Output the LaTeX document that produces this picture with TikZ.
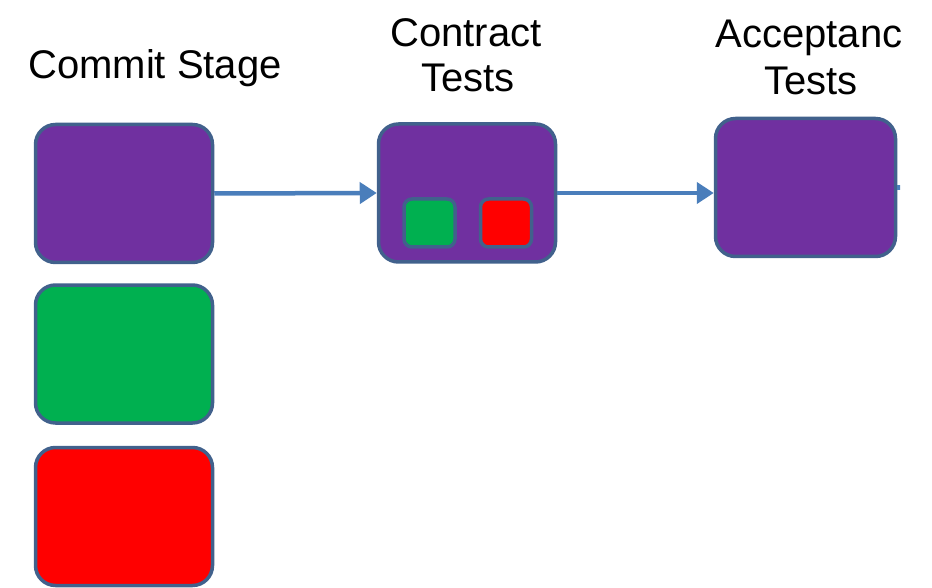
\documentclass[tikz,border=0pt]{standalone}
\usepackage{fontspec}
\setmainfont{Liberation Sans}
\usetikzlibrary{arrows.meta}
\definecolor{stagepurple}{HTML}{7030A0}
\definecolor{passgreen}{HTML}{00B050}
\definecolor{failred}{HTML}{FF0000}
\definecolor{edgeblue}{HTML}{41618C}
\definecolor{flowblue}{HTML}{4A7EBB}
\tikzset{
  bigbox/.style={draw=edgeblue, line width=3.5pt, rounded corners=20pt,
    minimum width=177pt, minimum height=138pt, inner sep=0pt},
  smallbox/.style={draw=edgeblue, line width=3.5pt, rounded corners=8pt,
    minimum width=51pt, minimum height=48pt, inner sep=0pt},
  title/.style={font=\fontsize{40}{47}\selectfont, inner sep=0pt, anchor=base},
  flow/.style={draw=flowblue, line width=4.5pt,
    -{Triangle[length=17pt,width=21pt]}}
}
\begin{document}
\begin{tikzpicture}[x=1pt,y=-1pt]
\useasboundingbox (0,0) rectangle (932,588);
\begin{scope}
\clip (0,0) rectangle (900,588);
% headings
\node[title] (hcommit) at (155,79) {Commit Stage};
\node[title] (hcontract) at (466,47) {Contract};
\node[title] (hcontract2) at (468,92) {Tests};
\node[title] (haccept) at (820,48) {Acceptance};
\node[title] (haccept2) at (811,95) {Tests};
% commit stage results
\node[bigbox, fill=stagepurple] (commit) at (124,193.5) {};
\node[bigbox, fill=passgreen] (cpass) at (124,354) {};
\node[bigbox, fill=failred] (cfail) at (124,516.5) {};
% contract tests
\node[bigbox, fill=stagepurple] (contract) at (467,193) {};
\node[smallbox, fill=passgreen] (kpass) at (429.5,223) {};
\node[smallbox, fill=failred] (kfail) at (506,223) {};
% acceptance tests
\node[bigbox, fill=stagepurple, minimum width=180pt] (accept) at (805.5,187.5) {};
\coordinate (onward) at (950,187.5);
% flow between stages
\draw[flow] (commit.east) -- (contract.west);
\draw[flow] (contract.east) -- (contract.east -| accept.west);
\draw[flow] (accept.east) -- (onward);
\end{scope}
\end{tikzpicture}
\end{document}
